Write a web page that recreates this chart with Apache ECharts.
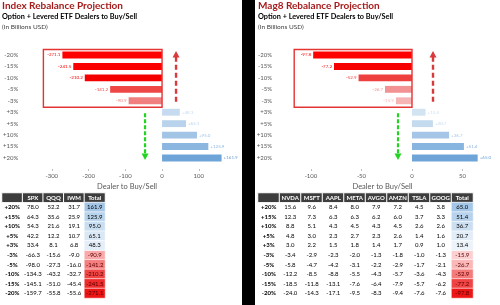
<!DOCTYPE html>
<html lang="en">
<head>
<meta charset="UTF-8">
<title>Rebalance Projection</title>
<style>
  html, body { margin: 0; padding: 0; background: #fff; }
  #main { width: 500px; height: 305px; }
</style>
</head>
<body>
<div id="main"></div>
<script src="https://cdn.jsdelivr.net/npm/echarts@6/dist/echarts.min.js"></script>
<script>
// rows as they appear in the tables (top to bottom)
var tableRows = ['+20%', '+15%', '+10%', '+5%', '+3%', '-3%', '-5%', '-10%', '-15%', '-20%'];

var indexCols = ['SPX', 'QQQ', 'IWM'];
var indexSPX = [78.0, 64.3, 54.3, 42.2, 33.4, -66.3, -98.0, -134.3, -145.1, -159.7];
var indexQQQ = [52.2, 35.6, 21.6, 12.2, 8.1, -15.6, -27.3, -43.2, -51.0, -55.8];
var indexIWM = [31.7, 25.9, 19.1, 10.7, 6.8, -9.0, -16.0, -32.7, -45.4, -55.6];
var indexTotal = [161.9, 125.9, 95.0, 65.1, 48.3, -90.9, -141.2, -210.2, -241.5, -271.1];

var magCols = ['NVDA', 'MSFT', 'AAPL', 'META', 'AVGO', 'AMZN', 'TSLA', 'GOOG'];
var magNVDA = [15.6, 12.3, 8.8, 4.8, 3.0, -3.4, -5.8, -12.2, -18.5, -24.0];
var magMSFT = [9.6, 7.3, 5.1, 3.0, 2.2, -2.9, -4.7, -8.5, -11.8, -14.3];
var magAAPL = [8.4, 6.3, 4.3, 2.3, 1.5, -2.3, -4.2, -8.8, -13.1, -17.1];
var magMETA = [8.0, 6.3, 4.5, 2.7, 1.8, -2.0, -3.1, -5.5, -7.6, -9.5];
var magAVGO = [7.9, 6.2, 4.3, 2.3, 1.4, -1.3, -2.2, -4.3, -6.4, -8.3];
var magAMZN = [7.2, 6.0, 4.5, 2.6, 1.7, -1.8, -2.9, -5.7, -7.9, -9.4];
var magTSLA = [4.5, 3.7, 2.6, 1.4, 0.9, -1.0, -1.7, -3.6, -5.7, -7.6];
var magGOOG = [3.8, 3.3, 2.6, 1.6, 1.0, -1.3, -2.1, -4.3, -6.2, -7.6];
var magTotal = [65.0, 51.4, 36.7, 20.7, 13.4, -15.9, -26.7, -52.9, -77.2, -97.8];

var FONT = 'Lato';
var redBars = ['#ff0000', '#f40000', '#ee4c4c', '#f49999', '#fae6e6'];
var blueBars = ['#ecf3f9', '#6ea4d8'];
var redCells = ['#ec1414', '#fff4f4'];
var blueCells = ['#ffffff', '#a4c6e7'];

var panels = [
  { title: 'Index Rebalance Projection', textLeft: 2, cols: indexCols,
    body: [indexSPX, indexQQQ, indexIWM], total: indexTotal,
    barLeft: 18, barRight: 267, xMin: -383, xMax: 193,
    tableLeft: 2, tableWidth: 103, redDx: 14, greenDx: -17 },
  { title: 'Mag8 Rebalance Projection', textLeft: 258, cols: magCols,
    body: [magNVDA, magMSFT, magAAPL, magMETA, magAVGO, magAMZN, magTSLA, magGOOG], total: magTotal,
    barLeft: 275, barRight: 10, xMin: -135.6, xMax: 77.2,
    tableLeft: 258, tableWidth: 215, redDx: 21, greenDx: -14 }
];

var title = [], grid = [], xAxis = [], yAxis = [], series = [], visualMap = [];

function fmt(v) { return (v > 0 ? '+' : '') + v.toFixed(1); }

function shade(seriesIndex, dim, min, max, colors) {
  return { type: 'continuous', show: false, seriesIndex: seriesIndex, dimension: dim,
    min: min, max: max, inRange: { color: colors } };
}

panels.forEach(function (p) {
  title.push(
    { text: p.title, left: p.textLeft, top: 0, padding: 0,
      textStyle: { fontFamily: FONT, fontSize: 10, fontWeight: 'bold', color: '#a61b1b', lineHeight: 12 } },
    { text: 'Option + Levered ETF Dealers to Buy/Sell', left: p.textLeft, top: 12, padding: 0,
      textStyle: { fontFamily: FONT, fontSize: 7.3, fontWeight: 'bold', color: '#000', lineHeight: 10 } },
    { text: '(In Billions USD)', left: p.textLeft, top: 22.5, padding: 0,
      textStyle: { fontFamily: FONT, fontSize: 6.5, fontWeight: 'normal', color: '#404040', lineHeight: 9 } }
  );

  // bar chart
  var gi = grid.length;
  grid.push({ left: p.barLeft, right: p.barRight, top: 49.3, height: 114.4 });
  xAxis.push({
    type: 'value', gridIndex: gi, min: p.xMin, max: p.xMax, offset: 5.3,
    name: 'Dealer to Buy/Sell', nameLocation: 'middle', nameGap: 14,
    nameTextStyle: { fontFamily: FONT, fontSize: 7.5, color: '#595959' },
    axisLine: { lineStyle: { color: '#bfbfbf' } },
    axisTick: { show: true, length: 2, lineStyle: { color: '#bfbfbf' } },
    axisLabel: { fontFamily: FONT, fontSize: 6, color: '#595959', margin: 4.5, showMinLabel: false, showMaxLabel: false },
    splitLine: { show: false }
  });
  yAxis.push({
    type: 'category', gridIndex: gi, data: tableRows,
    axisLine: { show: false, onZero: false }, axisTick: { show: false },
    axisLabel: { fontFamily: FONT, fontSize: 6, color: '#595959', margin: 3 }
  });
  var neg = [], pos = [];
  p.total.forEach(function (v, i) {
    (v < 0 ? neg : pos).push([v, tableRows[i]]);
  });
  var barLabel = function (position) {
    return { show: true, position: position, distance: 2, fontFamily: FONT, fontSize: 4.5, color: 'inherit',
      formatter: function (q) { return fmt(q.value[0]); } };
  };
  var negIdx = series.length;
  series.push(
    { type: 'bar', xAxisIndex: gi, yAxisIndex: gi, data: neg, barWidth: '60%', barGap: '-100%',
      label: barLabel('left'), silent: true },
    { type: 'bar', xAxisIndex: gi, yAxisIndex: gi, data: pos, barWidth: '60%', barGap: '-100%',
      label: barLabel('right'), silent: true }
  );
  visualMap.push(
    shade(negIdx, 0, Math.min.apply(null, p.total), 0, redBars),
    shade(negIdx + 1, 0, 0, Math.max.apply(null, p.total), blueBars)
  );

  // table
  var ti = grid.length;
  var header = [''].concat(p.cols, ['Total']);
  var last = header.length - 1;
  grid.push({ left: p.tableLeft, width: p.tableWidth, top: 193, height: 105 });
  xAxis.push({ type: 'category', gridIndex: ti, data: header, show: false });
  yAxis.push({ type: 'category', gridIndex: ti, data: ['hdr'].concat(tableRows), inverse: true, show: false });

  var cellLabel = function (extra) {
    return Object.assign({ show: true, fontFamily: FONT, fontSize: 6, color: '#000' }, extra || {});
  };
  var num = function (q) { return q.value[2].toFixed(1); };
  var headCells = header.map(function (h, c) { return { name: h, value: [c, 0, 0] }; });
  var rowCells = tableRows.map(function (r, i) { return { name: r, value: [0, i + 1, 0] }; });
  var bodyCells = [];
  p.body.forEach(function (col, c) {
    col.forEach(function (v, i) { bodyCells.push([c + 1, i + 1, v]); });
  });
  var totNeg = [], totPos = [];
  p.total.forEach(function (v, i) { (v < 0 ? totNeg : totPos).push([last, i + 1, v]); });

  var cellSeries = function (data, color, label, border) {
    return { type: 'heatmap', xAxisIndex: ti, yAxisIndex: ti, data: data, silent: true,
      itemStyle: { color: color, borderColor: '#fff', borderWidth: border }, label: label };
  };
  series.push(
    cellSeries(headCells, '#3d3d3d', cellLabel({ color: '#fff', fontWeight: 'bold', formatter: '{b}' }), 1),
    cellSeries(rowCells, '#fff', cellLabel({ fontWeight: 'bold', formatter: '{b}' }), 0),
    cellSeries(bodyCells, '#fff', cellLabel({ formatter: num }), 0)
  );
  var tIdx = series.length;
  series.push(
    cellSeries(totNeg, '#fff', cellLabel({ color: '#5a0000', formatter: num }), 0.6),
    cellSeries(totPos, '#fff', cellLabel({ formatter: num }), 0.6)
  );
  visualMap.push(
    shade(tIdx, 2, Math.min.apply(null, p.total), 0, redCells),
    shade(tIdx + 1, 2, 0, Math.max.apply(null, p.total), blueCells)
  );
});

var chart = echarts.init(document.getElementById('main'));
chart.setOption({
  animation: false,
  title: title, grid: grid, xAxis: xAxis, yAxis: yAxis,
  visualMap: visualMap, series: series
});

// annotations: boxes round the sell bars, arrows, divider
var graphics = [{ type: 'rect', shape: { x: 242, y: 0, width: 13, height: 305 }, style: { fill: '#000' } }];
panels.forEach(function (p, k) {
  var gi = k * 2;
  var px = function (v, row) { return chart.convertToPixel({ gridIndex: gi }, [v, tableRows.indexOf(row)]); };
  var zero = px(0, '-20%')[0];
  var yTop = px(0, '-20%')[1], yNeg = px(0, '-3%')[1];
  var yPos = px(0, '+3%')[1], yBot = px(0, '+20%')[1];
  var left = px(Math.min.apply(null, p.total), '-20%')[0] - 19;
  graphics.push({ type: 'rect', z: 100,
    shape: { x: left, y: yTop - 5.5, width: zero - left, height: yNeg - yTop + 12 },
    style: { fill: 'none', stroke: '#e53434', lineWidth: 1.4 } });

  var rx = zero + p.redDx, tip = yTop - 4;
  graphics.push(
    { type: 'line', z: 100, shape: { x1: rx, y1: yNeg + 1, x2: rx, y2: tip + 6 },
      style: { stroke: '#d8393b', lineWidth: 2.4, lineDash: [5, 3] } },
    { type: 'polygon', z: 100, shape: { points: [[rx, tip], [rx - 3.5, tip + 6.5], [rx + 3.5, tip + 6.5]] },
      style: { fill: '#d8393b' } }
  );
  var gx = zero + p.greenDx, gtip = yBot + 2;
  graphics.push(
    { type: 'line', z: 100, shape: { x1: gx, y1: yPos + 1, x2: gx, y2: gtip - 6 },
      style: { stroke: '#22d422', lineWidth: 2.2, lineDash: [4, 2] } },
    { type: 'polygon', z: 100, shape: { points: [[gx, gtip], [gx - 3.5, gtip - 6.5], [gx + 3.5, gtip - 6.5]] },
      style: { fill: '#22d422' } }
  );
});
chart.setOption({ graphic: graphics });
</script>
</body>
</html>
